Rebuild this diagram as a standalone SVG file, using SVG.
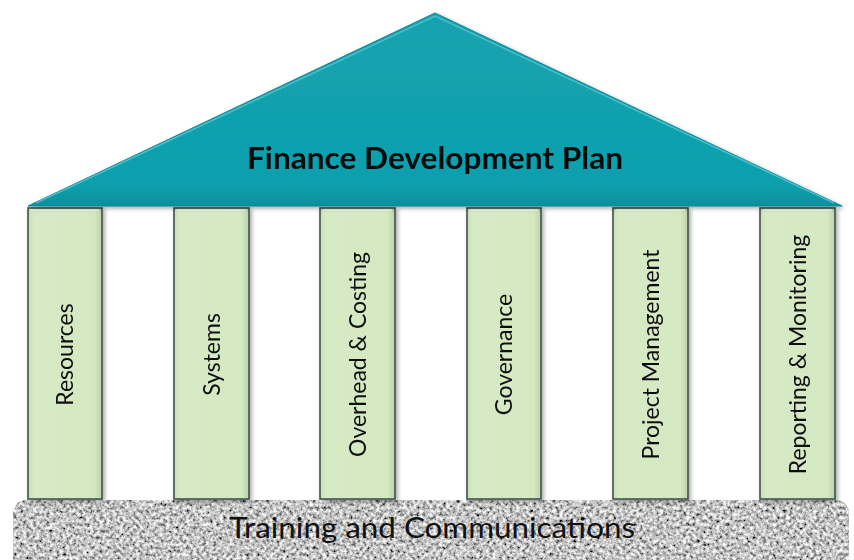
<svg xmlns="http://www.w3.org/2000/svg" width="854" height="560" viewBox="0 0 854 560">
<defs>
<style>
.pillar{fill:url(#pg);stroke:#3e534c;stroke-width:1.6}
.plabel{font-family:Lato,"Open Sans","Liberation Sans",sans-serif;font-size:23px;fill:#111;text-anchor:middle}
.title{font-family:Lato,"Open Sans","Liberation Sans",sans-serif;font-size:30px;font-weight:bold;fill:#050a0b;text-anchor:middle}
.base{font-family:Lato,"Open Sans","Liberation Sans",sans-serif;font-size:29px;fill:#111;text-anchor:middle}
.hl{fill:none;stroke:#f4faee;stroke-width:2;opacity:0.8}
</style>
<linearGradient id="pg" x1="0" y1="0" x2="1" y2="0">
<stop offset="0" stop-color="#c9dfb6"/>
<stop offset="0.08" stop-color="#d6eac5"/>
<stop offset="0.9" stop-color="#d4e8c2"/>
<stop offset="1" stop-color="#bcd2aa"/>
</linearGradient>
<linearGradient id="rg" x1="0" y1="0" x2="0" y2="1">
<stop offset="0" stop-color="#14a3b0"/>
<stop offset="0.9" stop-color="#0f9fad"/>
<stop offset="1" stop-color="#0b8e9b"/>
</linearGradient>
<filter id="granite" x="0" y="0" width="100%" height="100%">
<feTurbulence type="fractalNoise" baseFrequency="0.3" numOctaves="3" seed="7" result="n"/>
<feGaussianBlur in="n" stdDeviation="0.5" result="nb"/>
<feColorMatrix in="nb" type="matrix" values="1.7 0 0 0 -0.3  1.7 0 0 0 -0.3  1.7 0 0 0 -0.3  0 0 0 0 1" result="g"/>
<feComposite in="g" in2="SourceGraphic" operator="in"/>
</filter>
<filter id="sh" x="-10%" y="-10%" width="130%" height="130%">
<feGaussianBlur in="SourceAlpha" stdDeviation="2"/>
<feOffset dx="2" dy="2" result="b"/>
<feComponentTransfer><feFuncA type="linear" slope="0.35"/></feComponentTransfer>
<feMerge><feMergeNode/><feMergeNode in="SourceGraphic"/></feMerge>
</filter>
</defs>
<rect width="854" height="560" fill="#ffffff"/>

<g id="base">
<rect x="13" y="500" width="836" height="80" rx="13" fill="#a6a6a6" filter="url(#granite)"/>
<text class="base" x="432" y="538" textLength="406" lengthAdjust="spacingAndGlyphs">Training and Communications</text>
</g>

<g id="pillars" filter="url(#sh)">
<g id="p-resources"><rect class="pillar" x="28" y="208" width="74" height="291"/><line class="hl" x1="31" y1="210" x2="99" y2="210"/>
<text class="plabel" transform="translate(73,354.5) rotate(-90)">Resources</text></g>
<g id="p-systems"><rect class="pillar" x="174" y="208" width="75" height="291"/><line class="hl" x1="177" y1="210" x2="246" y2="210"/>
<text class="plabel" transform="translate(219.5,354.5) rotate(-90)">Systems</text></g>
<g id="p-overhead"><rect class="pillar" x="320" y="208" width="75" height="291"/><line class="hl" x1="323" y1="210" x2="392" y2="210"/>
<text class="plabel" transform="translate(365.5,354.5) rotate(-90)">Overhead &amp; Costing</text></g>
<g id="p-governance"><rect class="pillar" x="467" y="208" width="74" height="291"/><line class="hl" x1="470" y1="210" x2="538" y2="210"/>
<text class="plabel" transform="translate(512,354.5) rotate(-90)">Governance</text></g>
<g id="p-project"><rect class="pillar" x="613" y="208" width="75" height="291"/><line class="hl" x1="616" y1="210" x2="685" y2="210"/>
<text class="plabel" transform="translate(658.5,354.5) rotate(-90)">Project Management</text></g>
<g id="p-reporting"><rect class="pillar" x="760" y="208" width="75" height="291"/><line class="hl" x1="763" y1="210" x2="832" y2="210"/>
<text class="plabel" transform="translate(805.5,354.5) rotate(-90)">Reporting &amp; Monitoring</text></g>
</g>

<g id="roof" filter="url(#sh)">
<polygon points="28,206 435,13 842,206" fill="url(#rg)" stroke="#0a8794" stroke-width="1"/>
<polyline points="36,203 435,16 834,203" fill="none" stroke="#6fd3dc" stroke-width="1.5" opacity="0.6"/>
<text class="title" x="435" y="169" textLength="376" lengthAdjust="spacingAndGlyphs">Finance Development Plan</text>
</g>
</svg>
